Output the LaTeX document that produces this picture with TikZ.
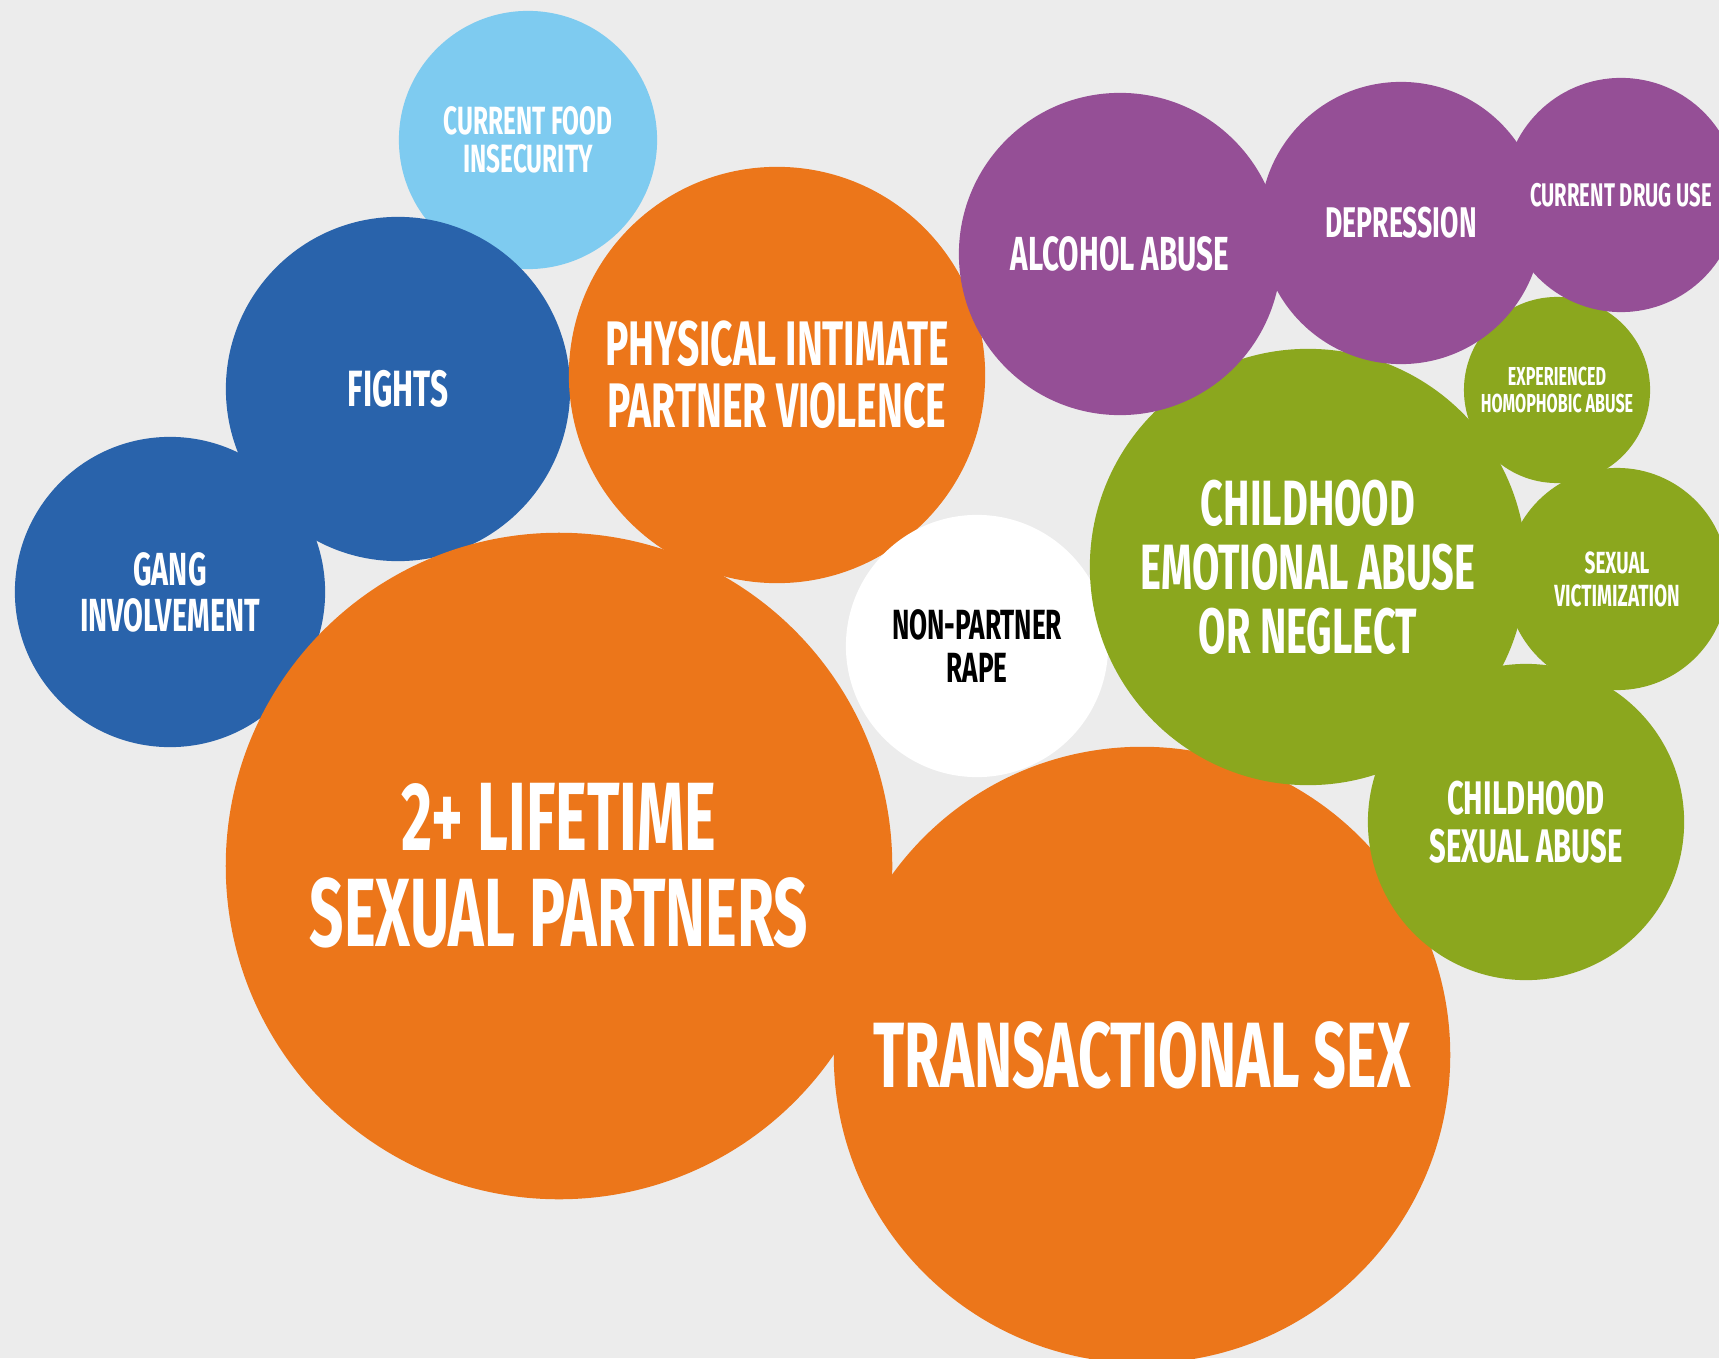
\documentclass[tikz,border=0pt]{standalone}
\usepackage{fontspec}
\setmainfont{Fira Sans}[FakeStretch=0.62]
\definecolor{paper}{RGB}{236,236,236}
\definecolor{skyblue}{RGB}{126,203,240}
\definecolor{deepblue}{RGB}{41,99,171}
\definecolor{carrot}{RGB}{236,118,26}
\definecolor{plum}{RGB}{149,79,150}
\definecolor{olive}{RGB}{139,167,30}
\newcommand\bubfont[2]{\fontsize{#1}{#2}\selectfont\bfseries}
\tikzset{
  bubble/.style={circle,inner sep=0pt,minimum size=#1*0.02cm,align=center,text=white},
}
\begin{document}
\begin{tikzpicture}[x=0.01cm,y=-0.01cm]
  \useasboundingbox (0,0) rectangle (1719,1358);
  \fill[paper] (0,0) rectangle (1719,1358);
  \clip (0,0) rectangle (1719,1358);
  % blue bubbles
  \node[bubble=129,fill=skyblue,font=\bubfont{11.2}{10.8}] (food) at (528,140) {CURRENT FOOD\\INSECURITY};
  \node[bubble=172,fill=deepblue,font=\bubfont{14.5}{14}] (fights) at (398,389) {FIGHTS};
  \node[bubble=155,fill=deepblue,font=\bubfont{13.2}{13.1}] (gang) at (170,592) {GANG\\INVOLVEMENT};
  % orange bubbles
  \node[bubble=333,fill=carrot,font=\bubfont{27.6}{27.3}] (lifetime) at (559,866) {2+ LIFETIME\\SEXUAL PARTNERS};
  \node[bubble=308,fill=carrot,font=\bubfont{26.4}{26}] (transact) at (1142,1055) {TRANSACTIONAL SEX};
  \node[bubble=208,fill=carrot,font=\bubfont{17.9}{17.6}] (ipv) at (777,375) {PHYSICAL INTIMATE\\PARTNER VIOLENCE};
  % white bubble
  \node[bubble=131,fill=white,text=black,font=\bubfont{12.0}{12.2}] (rape) at (977,646) {NON-PARTNER\\RAPE};
  % green bubbles
  \node[bubble=218,fill=olive,font=\bubfont{18.2}{18.2}] (emotional) at (1308,567) {CHILDHOOD\\EMOTIONAL ABUSE\\OR NEGLECT};
  \node[bubble=158,fill=olive,font=\bubfont{13.4}{13.7}] (csa) at (1526,822) {CHILDHOOD\\SEXUAL ABUSE};
  \node[bubble=111,fill=olive,font=\bubfont{8.7}{9.4}] (victim) at (1617,579) {SEXUAL\\VICTIMIZATION};
  \node[bubble=93,fill=olive,font=\bubfont{7.4}{7.7}] (homophobic) at (1557,390) {EXPERIENCED\\HOMOPHOBIC ABUSE};
  % purple bubbles
  \node[bubble=161,fill=plum,font=\bubfont{13.6}{14}] (alcohol) at (1120,254) {ALCOHOL ABUSE};
  \node[bubble=141,fill=plum,font=\bubfont{12.2}{13.6}] (depression) at (1401,223) {DEPRESSION};
  \node[bubble=117,fill=plum,font=\bubfont{9.3}{9.1}] (drugs) at (1621,195) {CURRENT DRUG USE};
\end{tikzpicture}
\end{document}
